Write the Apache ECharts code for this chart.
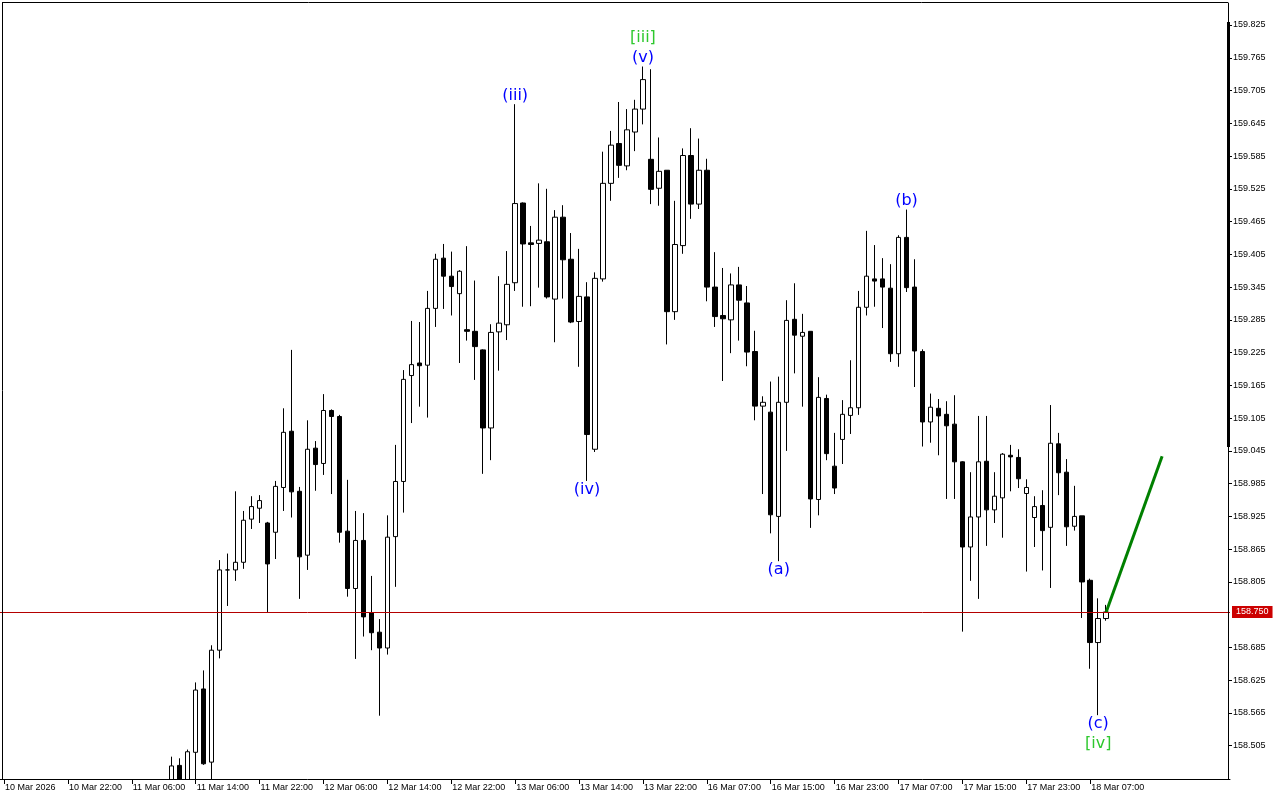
<!DOCTYPE html>
<html>
<head>
<meta charset="utf-8">
<script src="https://cdn.jsdelivr.net/npm/echarts@6/dist/echarts.min.js"></script>
<style>
html,body{margin:0;padding:0;background:#fff;}
#chart{width:1280px;height:800px;}
</style>
</head>
<body>
<div id="chart"></div>
<script>
// ---- categories (hourly bars, weekend gap after 13 Mar 22:00) ----
const months = ['Jan','Feb','Mar','Apr','May','Jun','Jul','Aug','Sep','Oct','Nov','Dec'];
const barCount = 154;
const timeLabels = (function () {
  const out = [];
  let d = new Date(Date.UTC(2026, 2, 10, 14, 0));
  while (out.length < barCount) {
    const hh = String(d.getUTCHours()).padStart(2, '0');
    out.push(d.getUTCDate() + ' ' + months[d.getUTCMonth()] + ' ' + hh + ':00');
    d = new Date(d.getTime() + 3600000);
    const day = d.getUTCDay();
    if (day === 6) d = new Date(Date.UTC(2026, d.getUTCMonth(), d.getUTCDate() + 2, 0, 0));
    if (day === 5 && d.getUTCHours() === 23) d = new Date(Date.UTC(2026, d.getUTCMonth(), d.getUTCDate() + 3, 0, 0));
  }
  return out;
})();
const firstAxisLabel = '10 Mar 2026';

// ---- candle values (first candle at category index 21) ----
const firstCandle = 21;
const opens = [
158.430,158.469,158.440,158.493,158.609,158.475,158.680,158.827,158.827,158.841,
158.920,158.940,158.913,158.896,158.978,159.081,158.971,158.854,159.050,159.022,
159.119,159.108,158.898,158.793,158.881,158.749,158.713,158.684,158.888,158.989,
159.183,159.206,159.202,159.306,159.398,159.365,159.333,159.267,159.264,159.230,
159.087,159.263,159.276,159.353,159.499,159.426,159.425,159.428,159.323,159.473,
159.396,159.282,159.327,159.048,159.360,159.535,159.608,159.567,159.629,159.671,
159.579,159.526,159.559,159.300,159.421,159.586,159.497,159.559,159.345,159.293,
159.285,159.349,159.316,159.227,159.127,159.116,158.925,159.134,159.286,159.255,
159.264,158.956,159.141,159.017,159.066,159.110,159.124,159.308,159.360,159.360,
159.343,159.223,159.436,159.345,159.227,159.098,159.123,159.112,159.094,159.025,
158.869,158.924,159.026,158.937,158.959,159.037,159.033,158.967,158.923,158.945,
158.905,159.058,159.006,158.907,158.926,158.808,158.694,158.738];
const highs = [
158.485,158.482,158.498,158.621,158.643,158.689,158.845,158.857,158.971,158.935,
158.962,158.964,158.915,158.990,159.123,159.230,158.979,159.101,159.063,159.149,
159.121,159.111,158.992,158.935,158.931,158.816,158.737,158.927,159.056,159.193,
159.283,159.281,159.338,159.406,159.424,159.410,159.376,159.420,159.357,159.231,
159.277,159.365,159.411,159.680,159.500,159.457,159.535,159.525,159.486,159.495,
159.444,159.415,159.354,159.372,159.593,159.631,159.684,159.671,159.688,159.749,
159.744,159.619,159.559,159.503,159.599,159.636,159.617,159.580,159.409,159.380,
159.370,159.382,159.347,159.265,159.145,159.172,159.181,159.321,159.352,159.296,
159.264,159.180,159.148,159.078,159.138,159.211,159.338,159.448,159.422,159.398,
159.387,159.440,159.487,159.396,159.231,159.150,159.140,159.136,159.147,159.026,
159.006,159.109,159.109,159.006,159.041,159.056,159.048,158.993,158.962,158.973,
159.129,159.078,159.030,158.981,158.926,158.811,158.775,158.763];
const lows = [
158.400,158.410,158.420,158.430,158.470,158.430,158.665,158.761,158.807,158.829,
158.902,158.913,158.750,158.847,158.935,158.923,158.774,158.827,158.972,159.001,
158.966,158.877,158.778,158.664,158.705,158.680,158.560,158.672,158.796,158.932,
159.096,159.126,159.106,159.272,159.305,159.293,159.206,159.247,159.175,159.003,
159.028,159.192,159.248,159.338,159.309,159.310,159.344,159.324,159.244,159.324,
159.279,159.199,158.990,159.043,159.355,159.503,159.545,159.559,159.594,159.643,
159.497,159.494,159.240,159.285,159.406,159.470,159.488,159.319,159.272,159.173,
159.224,159.247,159.200,159.101,158.966,158.894,158.843,159.045,159.187,159.126,
158.904,158.927,159.028,158.966,159.021,159.076,159.111,159.293,159.309,159.270,
159.208,159.199,159.336,159.162,159.053,159.060,159.037,158.957,158.957,158.714,
158.807,158.774,158.871,158.913,158.886,158.971,158.977,158.824,158.869,158.826,
158.794,158.964,158.871,158.899,158.739,158.646,158.561,158.734];
const closes = [
158.468,158.430,158.494,158.607,158.472,158.680,158.827,158.827,158.841,158.918,
158.943,158.954,158.838,158.980,159.079,158.970,158.851,159.048,159.020,159.119,
159.108,158.896,158.793,158.881,158.741,158.712,158.684,158.887,158.989,159.176,
159.203,159.201,159.306,159.396,159.365,159.346,159.374,159.264,159.236,159.087,
159.262,159.279,159.350,159.498,159.424,159.423,159.431,159.327,159.473,159.395,
159.281,159.328,159.075,159.361,159.535,159.605,159.568,159.633,159.671,159.725,
159.524,159.557,159.300,159.423,159.586,159.497,159.559,159.345,159.291,159.287,
159.349,159.321,159.226,159.127,159.134,158.928,159.134,159.284,159.257,159.262,
158.957,159.143,159.040,158.977,159.112,159.124,159.308,159.365,159.356,159.345,
159.223,159.436,159.344,159.228,159.098,159.125,159.109,159.091,159.025,158.869,
158.924,159.025,158.937,158.962,159.039,159.034,158.994,158.978,158.943,158.899,
159.059,159.005,158.906,158.925,158.805,158.694,158.738,158.750];

const currentPrice = 158.750;
// price-scale labels (158.745 is hidden behind the current-price tag)
const yTickValues = [158.505,158.565,158.625,158.685,158.805,158.865,158.925,158.985,159.045,
  159.105,159.165,159.225,159.285,159.345,159.405,159.465,159.525,159.585,159.645,159.705,159.765,159.825];
// projected move (green arrow): [category index, price]
const forecastLine = [[138, 158.750], [145, 159.035]];
// Elliott wave labels: candle index + which extreme + stacking level
const waveLabels = [
  {text:'(iii)', idx:64,  side:'high', level:0, kind:'minor'},
  {text:'(iv)',  idx:73,  side:'low',  level:0, kind:'minor'},
  {text:'(v)',   idx:80,  side:'high', level:0, kind:'minor'},
  {text:'[iii]', idx:80,  side:'high', level:1, kind:'major'},
  {text:'(a)',   idx:97,  side:'low',  level:0, kind:'minor'},
  {text:'(b)',   idx:113, side:'high', level:0, kind:'minor'},
  {text:'(c)',   idx:137, side:'low',  level:0, kind:'minor'},
  {text:'[iv]',  idx:137, side:'low',  level:1, kind:'major'}
];

// ---- build ----
const lastCandle = firstCandle + opens.length - 1;
const candleData = [];
for (let i = 0; i < barCount; i++) {
  const k = i - firstCandle;
  if (k >= 0 && k < opens.length) candleData.push([opens[k], closes[k], lows[k], highs[k]]);
  else candleData.push('-');
}
const labelColors = {minor:'#0000ff', major:'#2ec82e'};
const labelData = waveLabels.map(w => {
  const k = w.idx - firstCandle;
  const v = w.side === 'high' ? highs[k] : lows[k];
  return {
    value: [w.idx, v],
    label: {
      show: true,
      formatter: w.text,
      position: w.side === 'high' ? 'top' : 'bottom',
      distance: w.level === 0 ? 0 : 20,
      color: labelColors[w.kind],
      opacity: 1,
      fontFamily: 'DejaVu Sans',
      fontSize: 16,
      lineHeight: 16
    }
  };
});

const yMin = 158.4441, yMax = 159.8653;
const chart = echarts.init(document.getElementById('chart'), null, {renderer:'canvas'});
const axisFont = {fontFamily:'Liberation Sans', fontSize:9, color:'#000'};
const showTick = (i) => i % 8 === 0 && i <= lastCandle;
chart.setOption({
  animation: false,
  backgroundColor: '#fff',
  grid: {left: -2, right: 50, top: 3, bottom: 21, containLabel: false},
  xAxis: {
    type: 'category',
    data: timeLabels,
    boundaryGap: true,
    z: 10,
    axisLine: {show: true, lineStyle: {color:'#000', width:1}},
    axisTick: {show: true, alignWithLabel: true, length: 5, interval: showTick, lineStyle:{color:'#000'}},
    axisLabel: Object.assign({
      show: true,
      interval: showTick,
      align: 'left',
      margin: 4,
      padding: [0,0,0,1],
      formatter: (v, i) => i === 0 ? firstAxisLabel : v
    }, axisFont),
    splitLine: {show: false}
  },
  yAxis: {
    type: 'value',
    position: 'right',
    offset: -2,
    z: 10,
    min: yMin, max: yMax,
    axisLine: {show: true, lineStyle: {color:'#000', width:1}},
    axisTick: {show: true, length: 4, customValues: yTickValues, lineStyle:{color:'#000'}},
    axisLabel: Object.assign({
      show: true, margin: 5,
      customValues: yTickValues,
      formatter: (v) => v.toFixed(3)
    }, axisFont),
    splitLine: {show: false}
  },
  graphic: [
    {type:'rect', shape:{x:0, y:779.5, width:1228, height:21}, style:{fill:'#fff'}, silent:true, z:5},
    {type:'line', shape:{x1:2, y1:2.5, x2:1228, y2:2.5}, style:{stroke:'#000', lineWidth:1}, silent:true, z:12},
    {type:'line', shape:{x1:2.5, y1:2, x2:2.5, y2:779}, style:{stroke:'#000', lineWidth:1}, silent:true, z:12},
    {type:'rect', shape:{x:1227, y:22, width:3, height:425}, style:{fill:'#000'}, silent:true, z:12}
  ],
  series: [
    {
      type: 'candlestick',
      data: candleData,
      barWidth: 5,
      clip: true,
      z: 2,
      itemStyle: {color:'#ffffff', color0:'#000000', borderColor:'#000000', borderColor0:'#000000', borderColorDoji:'#000000', borderWidth:1},
      markLine: {
        silent: true,
        symbol: ['none','none'],
        lineStyle: {color:'#b40000', width:1, type:'solid'},
        label: {show:true, position:'end', distance:2, formatter: () => currentPrice.toFixed(3),
          backgroundColor:'#cc0000', color:'#fff', fontFamily:'Liberation Sans', fontSize:9, padding:[2,4,1,4]},
        data: [{yAxis: currentPrice}]
      }
    },
    {
      type: 'line',
      data: forecastLine,
      symbol: 'none',
      lineStyle: {color:'#008000', width:3},
      z: 3
    },
    {
      type: 'scatter',
      data: labelData,
      symbolSize: 1,
      itemStyle: {color: 'rgba(0,0,0,0)'},
      z: 4
    }
  ]
});
</script>
</body>
</html>
